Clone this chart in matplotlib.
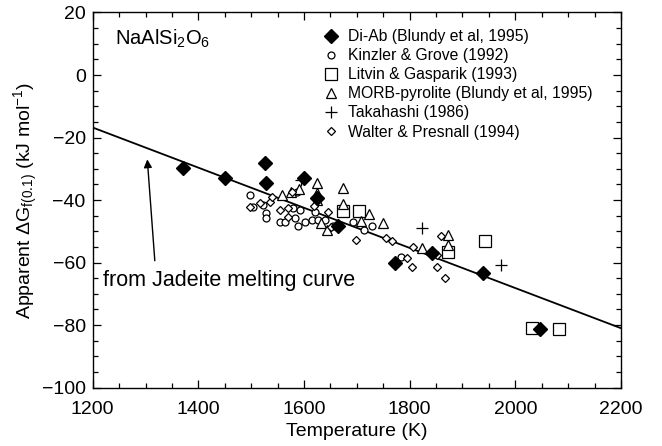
import matplotlib
matplotlib.use('Agg')
import matplotlib.pyplot as plt
from matplotlib.ticker import MultipleLocator

plt.rcParams['font.family'] = ['Liberation Sans', 'DejaVu Sans']
plt.rcParams['mathtext.fontset'] = 'custom'
plt.rcParams['mathtext.rm'] = 'Liberation Sans'
plt.rcParams['mathtext.it'] = 'Liberation Sans:italic'

# Di-Ab (Blundy et al, 1995)
diab_T = [1371, 1450, 1526, 1528, 1600, 1625, 1665, 1772, 1842, 1938, 2047]
diab_G = [-29.8, -32.9, -28.1, -34.7, -33.1, -39.4, -48.3, -60.1, -56.9, -63.5, -81.2]

# Kinzler & Grove (1992)
kg_T = [1498, 1504, 1523, 1529, 1529, 1555, 1564, 1583, 1586, 1580, 1592, 1602,
        1615, 1627, 1621, 1640, 1589, 1655, 1693, 1714, 1728, 1783]
kg_G = [-38.4, -42.1, -41.6, -44.3, -45.9, -47.0, -47.0, -45.9, -37.3, -42.7, -43.2, -47.0,
        -46.4, -46.4, -43.7, -46.4, -48.3, -48.3, -47.0, -49.6, -48.3, -58.1]

# Litvin & Gasparik (1993)
lg_T = [1673, 1705, 1873, 1943, 2031, 2083]
lg_G = [-43.4, -43.5, -56.5, -53.1, -81.0, -81.2]

# MORB-pyrolite (Blundy et al, 1995)
mp_T = [1558, 1575, 1590, 1625, 1625, 1625, 1673, 1673, 1723, 1749, 1633, 1707,
        1644, 1824, 1873, 1873]
mp_G = [-38.4, -37.3, -36.5, -34.7, -37.9, -40.0, -36.2, -41.3, -44.5, -47.3, -47.5, -46.6,
        -49.6, -55.5, -51.3, -54.4]

# Takahashi (1986)
tk_T = [1595, 1824, 1973]
tk_G = [-33.5, -48.9, -60.8]

# Walter & Presnall (1994)
wp_T = [1498, 1517, 1536, 1555, 1570, 1570, 1539, 1577, 1619, 1646, 1652, 1698,
        1756, 1766, 1807, 1859, 1852, 1804, 1867, 1795, 1852]
wp_G = [-42.1, -41.0, -40.5, -43.2, -42.7, -45.3, -38.9, -37.3, -41.9, -43.7, -48.7, -52.8,
        -52.0, -53.0, -55.0, -51.4, -57.6, -61.3, -65.0, -58.5, -61.3]

# fit line
fit_T = [1200, 2200]
fit_G = [-16.8, -81.0]

fig = plt.figure(figsize=(6.62, 4.46), dpi=100)
ax = fig.add_axes([0.140, 0.131, 0.798, 0.841])

ax.plot(fit_T, fit_G, color='black', lw=1.3, zorder=1)

kw = dict(ls='none', color='black', mfc='white', mew=0.9)
ax.plot(diab_T, diab_G, marker='D', ms=7, mfc='black', ls='none', color='black',
        label='Di-Ab (Blundy et al, 1995)', zorder=4)
ax.plot(kg_T, kg_G, marker='o', ms=5, label='Kinzler & Grove (1992)', zorder=3, **kw)
ax.plot(lg_T, lg_G, marker='s', ms=8.5, label='Litvin & Gasparik (1993)', zorder=2, **kw)
ax.plot(mp_T, mp_G, marker='^', ms=7, label='MORB-pyrolite (Blundy et al, 1995)', zorder=3, **kw)
ax.plot(tk_T, tk_G, marker='+', ms=9, label='Takahashi (1986)', zorder=3, **kw)
ax.plot(wp_T, wp_G, marker='D', ms=4.5, label='Walter & Presnall (1994)', zorder=3, **kw)

ax.set_xlim(1200, 2200)
ax.set_ylim(-100, 20)
ax.xaxis.set_major_locator(MultipleLocator(200))
ax.xaxis.set_minor_locator(MultipleLocator(50))
ax.yaxis.set_major_locator(MultipleLocator(20))
ax.yaxis.set_minor_locator(MultipleLocator(5))
ax.tick_params(which='both', direction='in', top=True, right=True, labelsize=14, width=0.9)
ax.tick_params(which='major', length=6)
ax.tick_params(which='minor', length=3.5)
ax.tick_params(axis='x', which='major', pad=10)
ax.tick_params(axis='y', which='major', pad=5)
for s in ax.spines.values():
    s.set_linewidth(1.0)

ax.set_xlabel('Temperature (K)', fontsize=14, labelpad=3)
ax.set_ylabel(r'Apparent $\Delta$G$_{\mathrm{f(0.1)}}$ (kJ mol$^{\mathrm{-1}}$)', fontsize=14, labelpad=1)

ax.text(1242, 11.5, r'NaAlSi$_2$O$_6$', fontsize=14.5, va='center', ha='left')

ax.annotate('', xy=(1303, -26.1), xytext=(1318, -60.3),
            arrowprops=dict(arrowstyle='-|>', color='black', lw=1.0, mutation_scale=12))
ax.text(1220, -65.6, 'from Jadeite melting curve', fontsize=15.5, va='center', ha='left')

ax.legend(loc='upper left', bbox_to_anchor=(0.415, 0.985), frameon=False, fontsize=11.3,
          handlelength=1.0, handletextpad=0.6, labelspacing=0.26, borderpad=0.2,
          numpoints=1)

fig.savefig('out.png', dpi=100)
